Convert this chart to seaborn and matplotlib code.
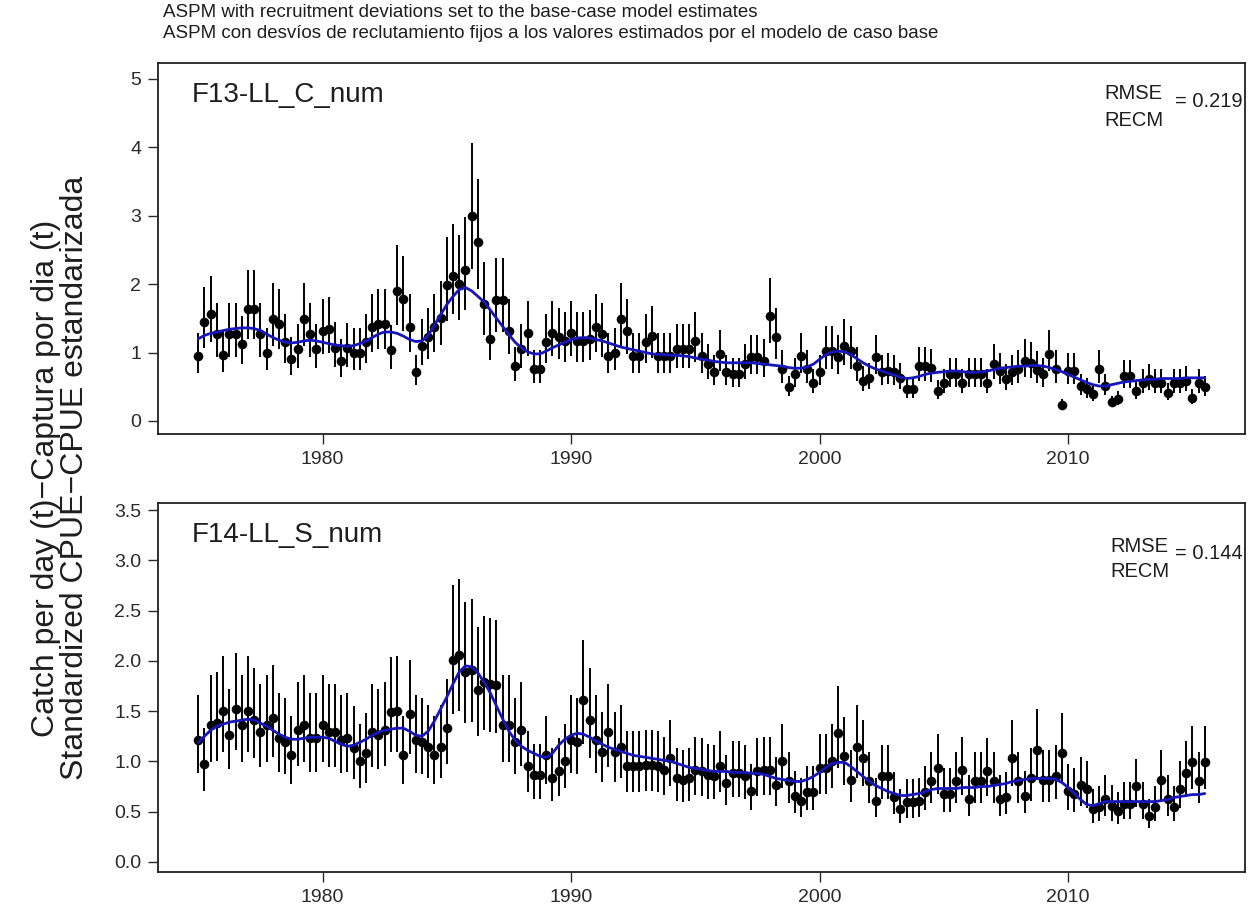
import numpy as np
import pandas as pd
import matplotlib
matplotlib.use("Agg")
import matplotlib.pyplot as plt
import seaborn as sns

# Quarterly time steps, 1975.0 ... 2015.5
quarters = np.arange(1975.0, 2015.75, 0.25)

# F13-LL_C_num: observed standardized CPUE and ASPM fit
f13_obs = [
    0.95, 1.44, 1.56, 1.27,  0.97, 1.27, 1.27, 1.13,  1.63, 1.63, 1.27, 1.00,
    1.49, 1.42, 1.15, 0.90,  1.05, 1.49, 1.27, 1.05,  1.32, 1.34, 1.07, 0.88,
    1.06, 1.00, 1.00, 1.15,  1.37, 1.42, 1.42, 1.03,  1.90, 1.78, 1.37, 0.71,
    1.10, 1.22, 1.37, 1.51,  1.98, 2.12, 2.00, 2.20,  3.00, 2.61, 1.71, 1.20,
    1.76, 1.76, 1.32, 0.80,  1.05, 1.29, 0.76, 0.76,  1.15, 1.29, 1.22, 1.17,
    1.29, 1.17, 1.17, 1.20,  1.37, 1.27, 0.95, 1.00,  1.49, 1.32, 0.95, 0.95,
    1.15, 1.24, 0.95, 0.95,  0.95, 1.05, 1.05, 1.05,  1.17, 0.95, 0.83, 0.71,
    0.98, 0.71, 0.68, 0.68,  0.83, 0.93, 0.93, 0.88,  1.54, 1.22, 0.76, 0.49,
    0.68, 0.95, 0.76, 0.56,  0.71, 1.02, 1.02, 0.93,  1.10, 1.02, 0.80, 0.59,
    0.63, 0.93, 0.71, 0.73,  0.71, 0.63, 0.46, 0.46,  0.80, 0.80, 0.78, 0.44,
    0.56, 0.68, 0.68, 0.56,  0.68, 0.68, 0.68, 0.56,  0.83, 0.73, 0.61, 0.71,
    0.76, 0.88, 0.85, 0.75,  0.68, 0.98, 0.76, 0.24,  0.73, 0.73, 0.51, 0.46,
    0.39, 0.76, 0.51, 0.27,  0.32, 0.66, 0.66, 0.44,  0.56, 0.61, 0.56, 0.56,
    0.41, 0.56, 0.56, 0.59,  0.34, 0.56, 0.49,
]
f13_exp = [
    1.20, 1.25, 1.28, 1.30,  1.32, 1.34, 1.35, 1.36,  1.36, 1.35, 1.32, 1.27,
    1.22, 1.18, 1.15, 1.14,  1.15, 1.17, 1.18, 1.17,  1.15, 1.13, 1.11, 1.10,
    1.09, 1.10, 1.13, 1.17,  1.22, 1.27, 1.30, 1.30,  1.28, 1.24, 1.19, 1.16,
    1.17, 1.25, 1.40, 1.55,  1.70, 1.82, 1.92, 1.95,  1.90, 1.82, 1.74, 1.62,
    1.50, 1.38, 1.26, 1.15,  1.07, 1.01, 0.98, 0.98,  1.02, 1.07, 1.11, 1.15,
    1.19, 1.21, 1.22, 1.21,  1.19, 1.17, 1.14, 1.11,  1.08, 1.06, 1.04, 1.02,
    1.00, 0.98, 0.97, 0.97,  0.96, 0.96, 0.95, 0.94,  0.92, 0.90, 0.89, 0.87,
    0.86, 0.85, 0.85, 0.85,  0.85, 0.85, 0.84, 0.83,  0.82, 0.81, 0.80, 0.78,
    0.77, 0.77, 0.79, 0.83,  0.90, 0.97, 1.01, 1.02,  1.01, 0.97, 0.91, 0.85,
    0.80, 0.76, 0.73, 0.70,  0.67, 0.64, 0.62, 0.63,  0.65, 0.68, 0.70, 0.71,
    0.72, 0.73, 0.73, 0.72,  0.71, 0.71, 0.72, 0.73,  0.75, 0.77, 0.78, 0.79,
    0.80, 0.80, 0.81, 0.81,  0.80, 0.78, 0.75, 0.72,  0.68, 0.64, 0.60, 0.56,
    0.53, 0.51, 0.51, 0.53,  0.55, 0.57, 0.58, 0.59,  0.60, 0.61, 0.61, 0.62,
    0.62, 0.62, 0.62, 0.63,  0.63, 0.63, 0.63,
]

# F14-LL_S_num: observed standardized CPUE and ASPM fit
f14_obs = [
    1.21, 0.97, 1.36, 1.38,  1.50, 1.26, 1.52, 1.36,  1.50, 1.41, 1.29, 1.36,
    1.43, 1.23, 1.19, 1.06,  1.31, 1.36, 1.23, 1.23,  1.36, 1.29, 1.29, 1.21,
    1.23, 1.13, 1.00, 1.08,  1.29, 1.26, 1.31, 1.49,  1.50, 1.06, 1.47, 1.21,
    1.19, 1.14, 1.06, 1.14,  1.33, 2.01, 2.06, 1.89,  1.91, 1.71, 1.79, 1.77,
    1.76, 1.36, 1.36, 1.19,  1.31, 0.95, 0.86, 0.86,  1.06, 0.83, 0.90, 1.00,
    1.21, 1.19, 1.61, 1.41,  1.21, 1.09, 1.29, 1.09,  1.14, 0.95, 0.95, 0.95,
    0.96, 0.96, 0.95, 0.91,  1.03, 0.83, 0.81, 0.83,  0.91, 0.90, 0.86, 0.85,
    0.95, 0.78, 0.88, 0.88,  0.85, 0.71, 0.90, 0.91,  0.91, 0.76, 1.00, 0.80,
    0.66, 0.61, 0.70, 0.70,  0.93, 0.93, 1.00, 1.28,  1.05, 0.81, 1.14, 1.03,
    0.80, 0.61, 0.85, 0.85,  0.65, 0.53, 0.60, 0.60,  0.61, 0.70, 0.80, 0.93,
    0.68, 0.68, 0.80, 0.91,  0.63, 0.80, 0.80, 0.90,  0.80, 0.63, 0.65, 1.03,
    0.80, 0.66, 0.83, 1.11,  0.81, 0.81, 0.85, 1.08,  0.71, 0.68, 0.76, 0.73,
    0.53, 0.55, 0.63, 0.56,  0.51, 0.58, 0.58, 0.75,  0.58, 0.46, 0.55, 0.81,
    0.63, 0.55, 0.73, 0.88,  0.99, 0.80, 0.99,
]
f14_exp = [
    1.19, 1.25, 1.31, 1.35,  1.37, 1.39, 1.40, 1.41,  1.42, 1.41, 1.38, 1.35,
    1.31, 1.27, 1.24, 1.22,  1.22, 1.23, 1.24, 1.24,  1.24, 1.23, 1.20, 1.17,
    1.15, 1.16, 1.19, 1.22,  1.26, 1.29, 1.31, 1.32,  1.33, 1.33, 1.30, 1.26,
    1.25, 1.30, 1.40, 1.52,  1.64, 1.77, 1.89, 1.95,  1.94, 1.88, 1.79, 1.68,
    1.55, 1.42, 1.30, 1.21,  1.15, 1.11, 1.08, 1.05,  1.04, 1.08, 1.16, 1.22,
    1.26, 1.28, 1.27, 1.24,  1.20, 1.17, 1.14, 1.12,  1.10, 1.08, 1.06, 1.05,
    1.04, 1.03, 1.02, 1.01,  1.00, 0.98, 0.96, 0.94,  0.93, 0.92, 0.91, 0.90,
    0.90, 0.90, 0.89, 0.89,  0.89, 0.88, 0.88, 0.87,  0.85, 0.83, 0.82, 0.81,
    0.80, 0.80, 0.82, 0.85,  0.89, 0.94, 0.98, 0.99,  0.99, 0.95, 0.90, 0.85,
    0.80, 0.76, 0.73, 0.70,  0.68, 0.66, 0.66, 0.67,  0.68, 0.70, 0.72, 0.73,
    0.73, 0.73, 0.73, 0.74,  0.74, 0.74, 0.75, 0.75,  0.76, 0.77, 0.78, 0.80,
    0.81, 0.82, 0.83, 0.83,  0.83, 0.83, 0.82, 0.79,  0.74, 0.68, 0.62, 0.57,
    0.56, 0.58, 0.60, 0.60,  0.60, 0.60, 0.60, 0.60,  0.60, 0.60, 0.60, 0.61,
    0.62, 0.64, 0.65, 0.66,  0.67, 0.67, 0.68,
]

# Log-scale standard errors of the indices (95% lognormal intervals)
f13_log_se = 0.155
f14_log_se = 0.16

panel_names = ["F13-LL_C_num", "F14-LL_S_num"]
panel_rmse = [0.219, 0.144]
x_ticks = [1980, 1990, 2000, 2010]

title_lines = [
    "ASPM with recruitment deviations set to the base-case model estimates",
    "ASPM con desvíos de reclutamiento fijos a los valores estimados por el modelo de caso base",
]
y_label = "Catch per day (t)\u2212Captura por dia (t)\nStandardized CPUE\u2212CPUE estandarizada"

sns.set_style("ticks")
plt.rcParams["font.family"] = ["Liberation Sans", "DejaVu Sans"]
text_color = "#1e1e1e"

fig = plt.figure(figsize=(12.57, 9.14), dpi=100)
ax_top = fig.add_axes([0.1257, 0.5252, 0.8648, 0.4059])
ax_bot = fig.add_axes([0.1257, 0.0460, 0.8648, 0.4037])

# (axes, obs, fit, se, ylim, yticks, fmt, name y, rmse x, rmse y, "=" y, recm y)
panels = [
    (ax_top, f13_obs, f13_exp, f13_log_se, (-0.19, 5.23), [0, 1, 2, 3, 4, 5], "{:.0f}",
     0.914, 0.871, 0.919, 0.895, 0.846),
    (ax_bot, f14_obs, f14_exp, f14_log_se, (-0.10, 3.57),
     [0.0, 0.5, 1.0, 1.5, 2.0, 2.5, 3.0, 3.5], "{:.1f}",
     0.913, 0.876, 0.883, 0.864, 0.813),
]

for i, (ax, obs, exp, se, ylim, yticks, yfmt, name_y, rx, ry_rmse, ry_val, ry_recm) in enumerate(panels):
    df = pd.DataFrame({"year": quarters, "obs": obs, "exp": exp})
    df["lo"] = df["obs"] * np.exp(-1.96 * se)
    df["hi"] = df["obs"] * np.exp(1.96 * se)

    ax.vlines(df["year"], df["lo"], df["hi"], color="black", lw=1.4, zorder=2)
    sns.scatterplot(data=df, x="year", y="obs", ax=ax, color="black", s=48,
                    linewidth=0, zorder=3, legend=False)
    sns.lineplot(data=df, x="year", y="exp", ax=ax, color="#1616bc", lw=2.0,
                 zorder=4, legend=False)

    ax.set_xlim(1973.38, 2017.12)
    ax.set_ylim(*ylim)
    ax.set_xticks(x_ticks)
    ax.set_xticklabels([str(t) for t in x_ticks])
    ax.set_yticks(yticks)
    ax.set_yticklabels([yfmt.format(t) for t in yticks])
    ax.set_xlabel("")
    ax.set_ylabel("")
    ax.tick_params(direction="out", length=7, width=1.0, labelsize=14,
                   colors="#2a2a2a", pad=5)
    for sp in ax.spines.values():
        sp.set_visible(True)
        sp.set_linewidth(1.3)
        sp.set_color("#202020")

    ax.text(0.031, name_y, panel_names[i], transform=ax.transAxes,
            fontsize=20, color=text_color, ha="left", va="center")
    ax.text(rx, ry_rmse, "RMSE", transform=ax.transAxes, fontsize=14.5,
            color=text_color, ha="left", va="center")
    ax.text(rx, ry_recm, "RECM", transform=ax.transAxes, fontsize=14.5,
            color=text_color, ha="left", va="center")
    ax.text(0.998, ry_val, "= {:.3f}".format(panel_rmse[i]), transform=ax.transAxes,
            fontsize=14.5, color=text_color, ha="right", va="center")

fig.text(0.1297, 0.986, title_lines[0], fontsize=13.5, color=text_color,
         ha="left", va="center")
fig.text(0.1297, 0.963, title_lines[1], fontsize=13.5, color=text_color,
         ha="left", va="center")
fig.text(0.048, 0.477, y_label, rotation=90, fontsize=23, color=text_color,
         ha="center", va="center", multialignment="center", linespacing=0.95)

fig.savefig("out.png", dpi=100, facecolor="white")
